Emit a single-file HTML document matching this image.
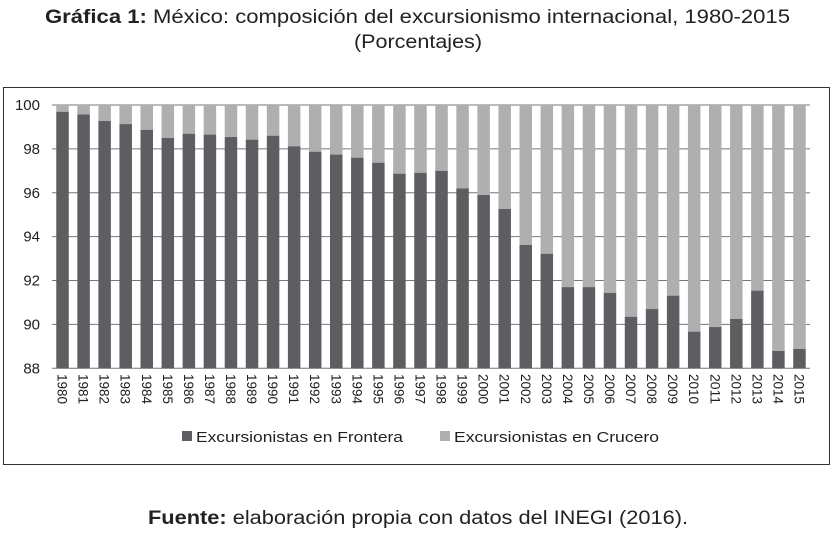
<!DOCTYPE html>
<html><head><meta charset="utf-8"><style>
body{margin:0;background:#fff;width:835px;height:537px;overflow:hidden;font-family:"Liberation Sans",sans-serif;}
</style></head><body>
<svg width="835" height="537" xmlns="http://www.w3.org/2000/svg">
<text x="45" y="23" font-size="19" fill="#222" textLength="745" lengthAdjust="spacingAndGlyphs"><tspan font-weight="bold">Gráfica 1:</tspan> México: composición del excursionismo internacional, 1980-2015</text>
<text x="418" y="48" text-anchor="middle" font-size="19" fill="#222" textLength="128" lengthAdjust="spacingAndGlyphs">(Porcentajes)</text>
<rect x="3.5" y="87.5" width="826" height="377" fill="none" stroke="#333" stroke-width="1"/>
<g id="grid"></g><g id="bars"></g><g id="ylab"></g><g id="xlab"></g>
<rect x="182" y="431" width="10" height="10" fill="#5d5e61"/>
<text x="196" y="442" font-size="15" fill="#222" textLength="207" lengthAdjust="spacingAndGlyphs">Excursionistas en Frontera</text>
<rect x="440" y="431" width="10" height="10" fill="#aeafb1"/>
<text x="454" y="442" font-size="15" fill="#222" textLength="205" lengthAdjust="spacingAndGlyphs">Excursionistas en Crucero</text>
<text x="148" y="524" font-size="19" fill="#222" textLength="540" lengthAdjust="spacingAndGlyphs"><tspan font-weight="bold">Fuente:</tspan> elaboración propia con datos del INEGI (2016).</text>
</svg>
<script>
const years=[1980,1981,1982,1983,1984,1985,1986,1987,1988,1989,1990,1991,1992,1993,1994,1995,1996,1997,1998,1999,2000,2001,2002,2003,2004,2005,2006,2007,2008,2009,2010,2011,2012,2013,2014,2015];
const frontera=[99.69,99.57,99.27,99.13,98.87,98.5,98.69,98.65,98.54,98.42,98.6,98.12,97.87,97.74,97.6,97.37,96.87,96.91,97.0,96.2,95.9,95.26,93.62,93.22,91.7,91.7,91.44,90.35,90.7,91.31,89.67,89.88,90.25,91.54,88.79,88.88];
const yTicks=[88,90,92,94,96,98,100];
const NS="http://www.w3.org/2000/svg";
const x0=52,x1=810,yTop=105,yBot=368.3,vMin=88,vMax=100;
const y=v=>yBot-(v-vMin)/(vMax-vMin)*(yBot-yTop);
const bw=(x1-x0)/years.length;
const xc=i=>x0+bw*(i+0.5);
function mk(t,a,p){const e=document.createElementNS(NS,t);for(const k in a)e.setAttribute(k,a[k]);p.appendChild(e);return e;}
const G=document.getElementById('grid'),B=document.getElementById('bars'),YL=document.getElementById('ylab'),XL=document.getElementById('xlab');
yTicks.forEach(v=>{
 const l=mk('line',{x1:x0,x2:x1,y1:y(v),y2:y(v),stroke:'#777','stroke-width':1},G);
 
 
 const t=mk('text',{x:40,y:y(v)+5,'text-anchor':'end','font-size':15,fill:'#222'},YL);
 t.textContent=v;
 
 
});
years.forEach((yr,i)=>{
 const w=12.5,xl=xc(i)-w/2;
 const c=mk('rect',{x:xl,y:y(100),width:w,height:y(frontera[i])-y(100),fill:'#aeafb1'},B);
 
 
 const f=mk('rect',{x:xl,y:y(frontera[i]),width:w,height:yBot-y(frontera[i]),fill:'#5d5e61'},B);
 
 
 const t=mk('text',{x:0,y:0,'font-size':14,fill:'#222',textLength:30,lengthAdjust:'spacingAndGlyphs',transform:`translate(${xc(i)-5},374) rotate(90)`},XL);
 t.textContent=yr;
 
 
});
</script>
</body></html>
